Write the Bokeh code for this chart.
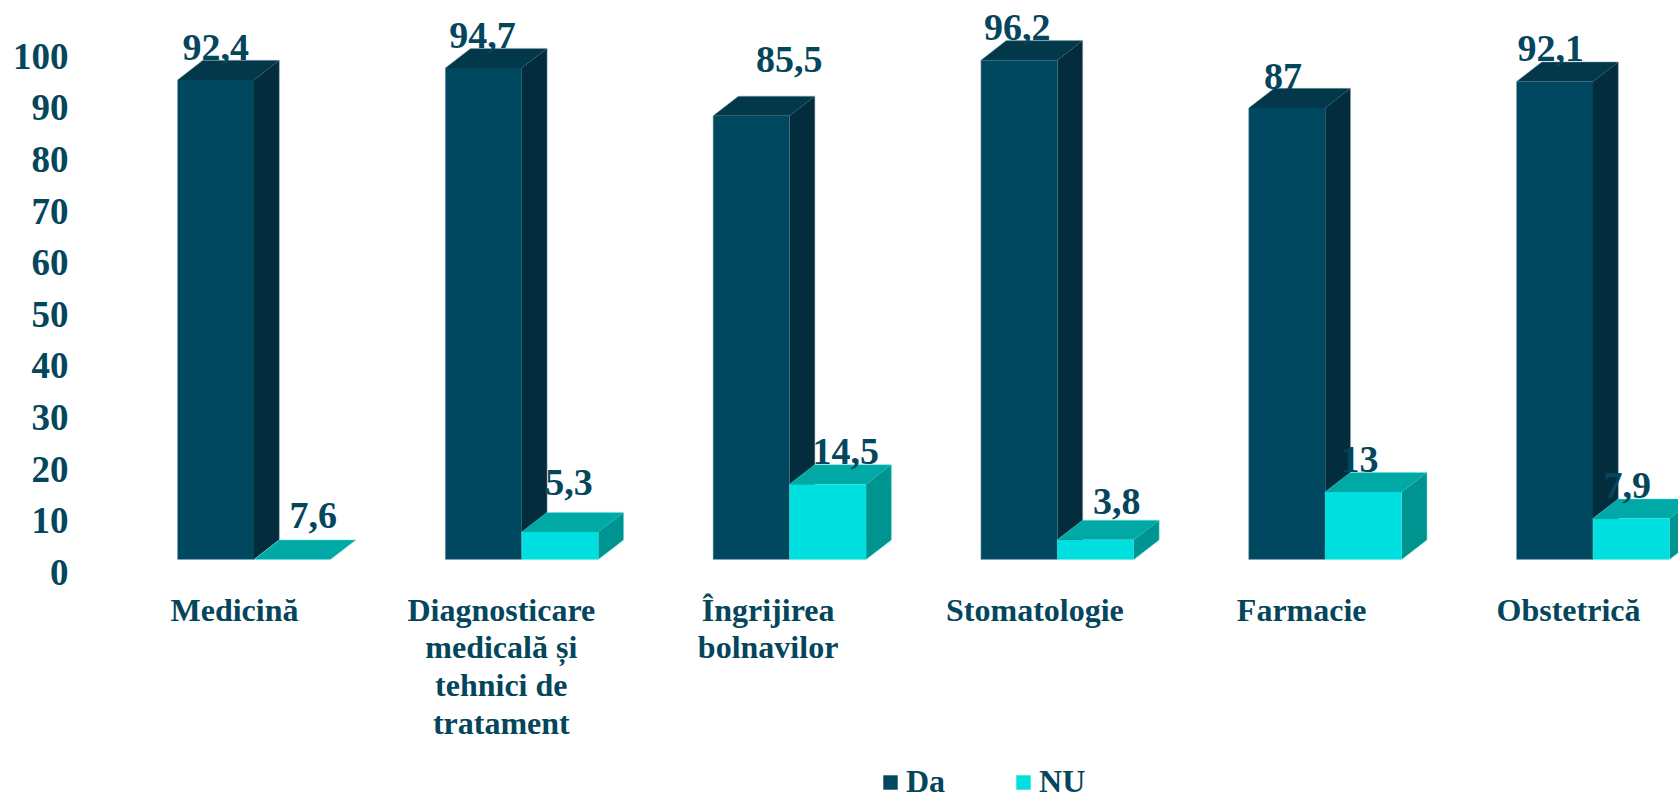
from bokeh.plotting import figure
from bokeh.models import Range1d, LinearAxis, FixedTicker, Legend, LegendItem
from bokeh.core.properties import value
from bokeh.embed import file_html
from bokeh.resources import INLINE

categories = ["Medicină", "Diagnosticare\nmedicală și\ntehnici de\ntratament", "Îngrijirea\nbolnavilor",
              "Stomatologie", "Farmacie", "Obstetrică"]
da_values = [92.4, 94.7, 85.5, 96.2, 87, 92.1]
nu_values = [0, 5.3, 14.5, 3.8, 13, 7.9]
da_labels = ["92,4", "94,7", "85,5", "96,2", "87", "92,1"]
nu_labels = ["7,6", "5,3", "14,5", "3,8", "13", "7,9"]
ticks = list(range(0, 101, 10))

# label nudges in screen pixels
da_dx = [0, -1, 38, -2, -4, -4]
da_dy = [-32, -33, -56, -33, -31, -33]
nu_dx = [21, 9, 18, 21, -4, -4]
nu_dy = [-44, -49, -33, -38, -33, -33]

FONT = "Liberation Serif"
TEXT = "#04465c"
W, H = 1678, 799
LEFT = 76
PXX = 267.8
PXY = 5.19
BASE_X = 253.5 - LEFT
BASE_Y = 559
bw = 76.5 / PXX
ddx = 25.3 / PXX
ddy = 19.6 / PXY
FW = W - LEFT

p = figure(width=W, height=H, output_backend="svg", toolbar_location=None,
           x_axis_location=None, y_axis_location=None,
           x_range=Range1d(-BASE_X / PXX, (FW - BASE_X) / PXX),
           y_range=Range1d(-(H - BASE_Y) / PXY, BASE_Y / PXY),
           min_border_left=LEFT, min_border_right=0, min_border_top=0, min_border_bottom=0)
p.outline_line_color = None
p.grid.visible = False
p.background_fill_color = "white"

# value axis sits on its own scale: the labels are spaced and shifted apart from the bars
TPX = 5.16
TBASE = 571.8
p.extra_y_ranges["ticks"] = Range1d(-(H - TBASE) / TPX, TBASE / TPX)
yax = LinearAxis(y_range_name="ticks", ticker=FixedTicker(ticks=ticks))
yax.axis_line_color = None
yax.major_tick_line_color = None
yax.minor_tick_line_color = None
yax.major_label_standoff = 2
yax.major_label_text_font = FONT
yax.major_label_text_font_style = "bold"
yax.major_label_text_font_size = "37px"
yax.major_label_text_color = TEXT
p.add_layout(yax, "left")

# category labels have their own slightly tighter horizontal scale
LPX = 266.8
LBASE = 234 - LEFT
p.extra_x_ranges["labels"] = Range1d(-LBASE / LPX, (FW - LBASE) / LPX)


idx = list(range(len(categories)))
da_left = [i - bw for i in idx]
nu_left = list(idx)


def draw(left, vals, front, top, side, edge):
    xt, yt, xs, ys, xo, yo = [], [], [], [], [], []
    for x, v in zip(left, vals):
        r = x + bw
        xt.append([x, r, r + ddx, x + ddx])
        yt.append([v, v, v + ddy, v + ddy])
        xs.append([r, r + ddx, r + ddx, r])
        ys.append([0, ddy, v + ddy, v])
        xo.append([x, r, r + ddx, r + ddx, x + ddx, x])
        yo.append([0, 0, ddy, v + ddy, v + ddy, v])
    p.patches(xs, ys, fill_color=side, line_color=None)
    p.patches(xt, yt, fill_color=top, line_color=None)
    bars = p.vbar(x=[x + bw / 2 for x in left], top=vals, bottom=0, width=bw,
                  fill_color=front, line_color=None)
    p.patches(xo, yo, fill_color=None, line_color=edge, line_alpha=0.5, line_width=1)
    return bars


r_da = draw(da_left, da_values, "#004760", "#03384a", "#032c3d", "#8aa3b2")
r_nu = draw(nu_left, nu_values, "#00dfdf", "#00a9a5", "#009490", "#66e8e6")

p.text(x=[x + bw / 2 for x in da_left], y=da_values, text=da_labels, x_offset=da_dx, y_offset=da_dy,
       text_font=value(FONT), text_font_style="bold", text_font_size="38px", text_color=TEXT,
       text_align="center", text_baseline="middle")
p.text(x=[x + bw / 2 for x in nu_left], y=nu_values, text=nu_labels, x_offset=nu_dx, y_offset=nu_dy,
       text_font=value(FONT), text_font_style="bold", text_font_size="38px", text_color=TEXT,
       text_align="center", text_baseline="middle")

label_y = -(591 - 559) / PXY
p.text(x=idx, y=[label_y] * len(idx), text=categories, x_range_name="labels",
       text_font=value(FONT), text_font_style="bold", text_font_size="32px", text_color=TEXT,
       text_align="center", text_baseline="top", text_line_height=1.05)

legend = Legend(items=[LegendItem(label="Da", renderers=[r_da]), LegendItem(label="NU", renderers=[r_nu])],
                orientation="horizontal", location=(881 - LEFT, -1), padding=0, margin=0, spacing=69,
                glyph_width=18, glyph_height=18, label_standoff=7,
                label_text_font=FONT, label_text_font_style="bold", label_text_font_size="32px",
                label_text_color=TEXT, border_line_color=None, background_fill_color=None)
p.add_layout(legend)

open("out.html", "w").write(file_html(p, INLINE))
